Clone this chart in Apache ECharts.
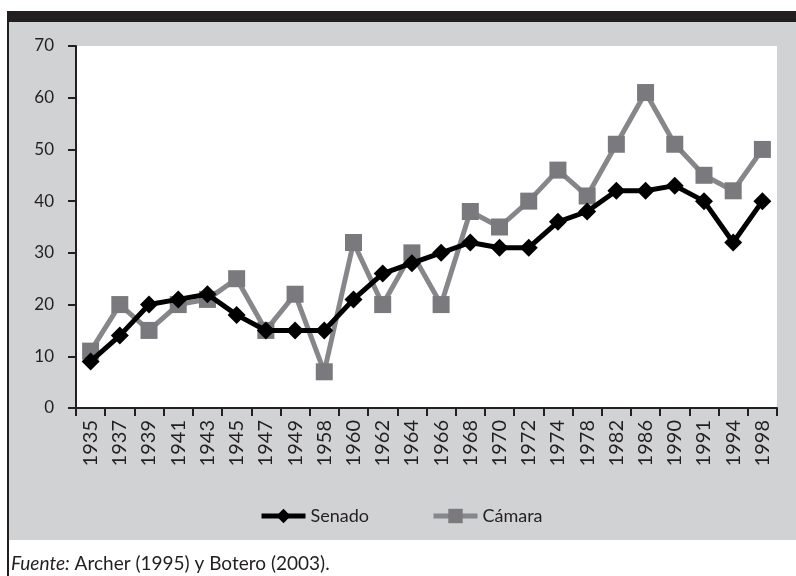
<!DOCTYPE html>
<html><head><meta charset="utf-8">
<script src="https://cdn.jsdelivr.net/npm/echarts@6/dist/echarts.min.js"></script>
<style>html,body{margin:0;padding:0;background:#fff}#c{width:796px;height:576px}</style>
</head><body><div id="c"></div>
<script>
const years = ['1935','1937','1939','1941','1943','1945','1947','1949','1958','1960','1962','1964','1966','1968','1970','1972','1974','1978','1982','1986','1990','1991','1994','1998'];
const senado = [9,14,20,21,22,18,15,15,15,21,26,28,30,32,31,31,36,38,42,42,43,40,32,40];
const camara = [11,20,15,20,21,25,15,22,7,32,20,30,20,38,35,40,46,41,51,61,51,45,42,50];
const yTicks = [0,10,20,30,40,50,60,70];

const chart = echarts.init(document.getElementById('c'), null, {renderer:'canvas'});
const font = 'Lato, "Open Sans", sans-serif';
chart.setOption({
  animation:false,
  backgroundColor:'#ffffff',
  graphic:[
    {type:'rect', shape:{x:7,y:11,width:789,height:11}, style:{fill:'#231f20'}, z:-10},
    {type:'rect', shape:{x:9,y:22,width:787,height:518}, style:{fill:'#d1d2d4'}, z:-10},
    {type:'rect', shape:{x:7,y:11,width:2,height:565}, style:{fill:'#231f20'}, z:-10},
    {type:'text', left:11, top:554, style:{
      text:'{i|Fuente:} Archer (1995) y Botero (2003).',
      rich:{i:{fontStyle:'italic', fontFamily:font, fontSize:19, fill:'#231f20'}},
      fontFamily:font, fontSize:19, fill:'#231f20'}}
  ],
  grid:{left:76, right:19, top:46, bottom:168, show:true, backgroundColor:'#ffffff', borderWidth:0},
  legend:{
    left:254, top:502, itemWidth:44, itemHeight:18, itemGap:62,
    lineStyle:{width:5},
    textStyle:{fontFamily:font, fontSize:18, color:'#231f20'},
    data:['Senado','Cámara']
  },
  xAxis:{
    type:'category', data:years, boundaryGap:true,
    axisLine:{lineStyle:{color:'#231f20', width:2}},
    axisTick:{show:true, length:8, lineStyle:{color:'#231f20', width:2}},
    axisLabel:{rotate:90, margin:12, fontFamily:font, fontSize:20, color:'#231f20'}
  },
  yAxis:{
    type:'value', min:0, max:70, interval:10,
    splitLine:{show:false},
    axisLine:{show:true, lineStyle:{color:'#231f20', width:2}},
    axisTick:{show:true, length:8, lineStyle:{color:'#231f20', width:2}},
    axisLabel:{margin:22, fontFamily:font, fontSize:17, color:'#231f20',
      formatter:v=>yTicks.includes(v)?String(v):''}
  },
  series:[
    {name:'Senado', type:'line', data:senado, symbol:'diamond', symbolSize:[18,18],
      lineStyle:{color:'#000000', width:5}, itemStyle:{color:'#000000'}, z:3},
    {name:'Cámara', type:'line', data:camara, symbol:'rect', symbolSize:17,
      lineStyle:{color:'#87868b', width:5}, itemStyle:{color:'#7a797e'}, z:2}
  ]
});
</script></body></html>
